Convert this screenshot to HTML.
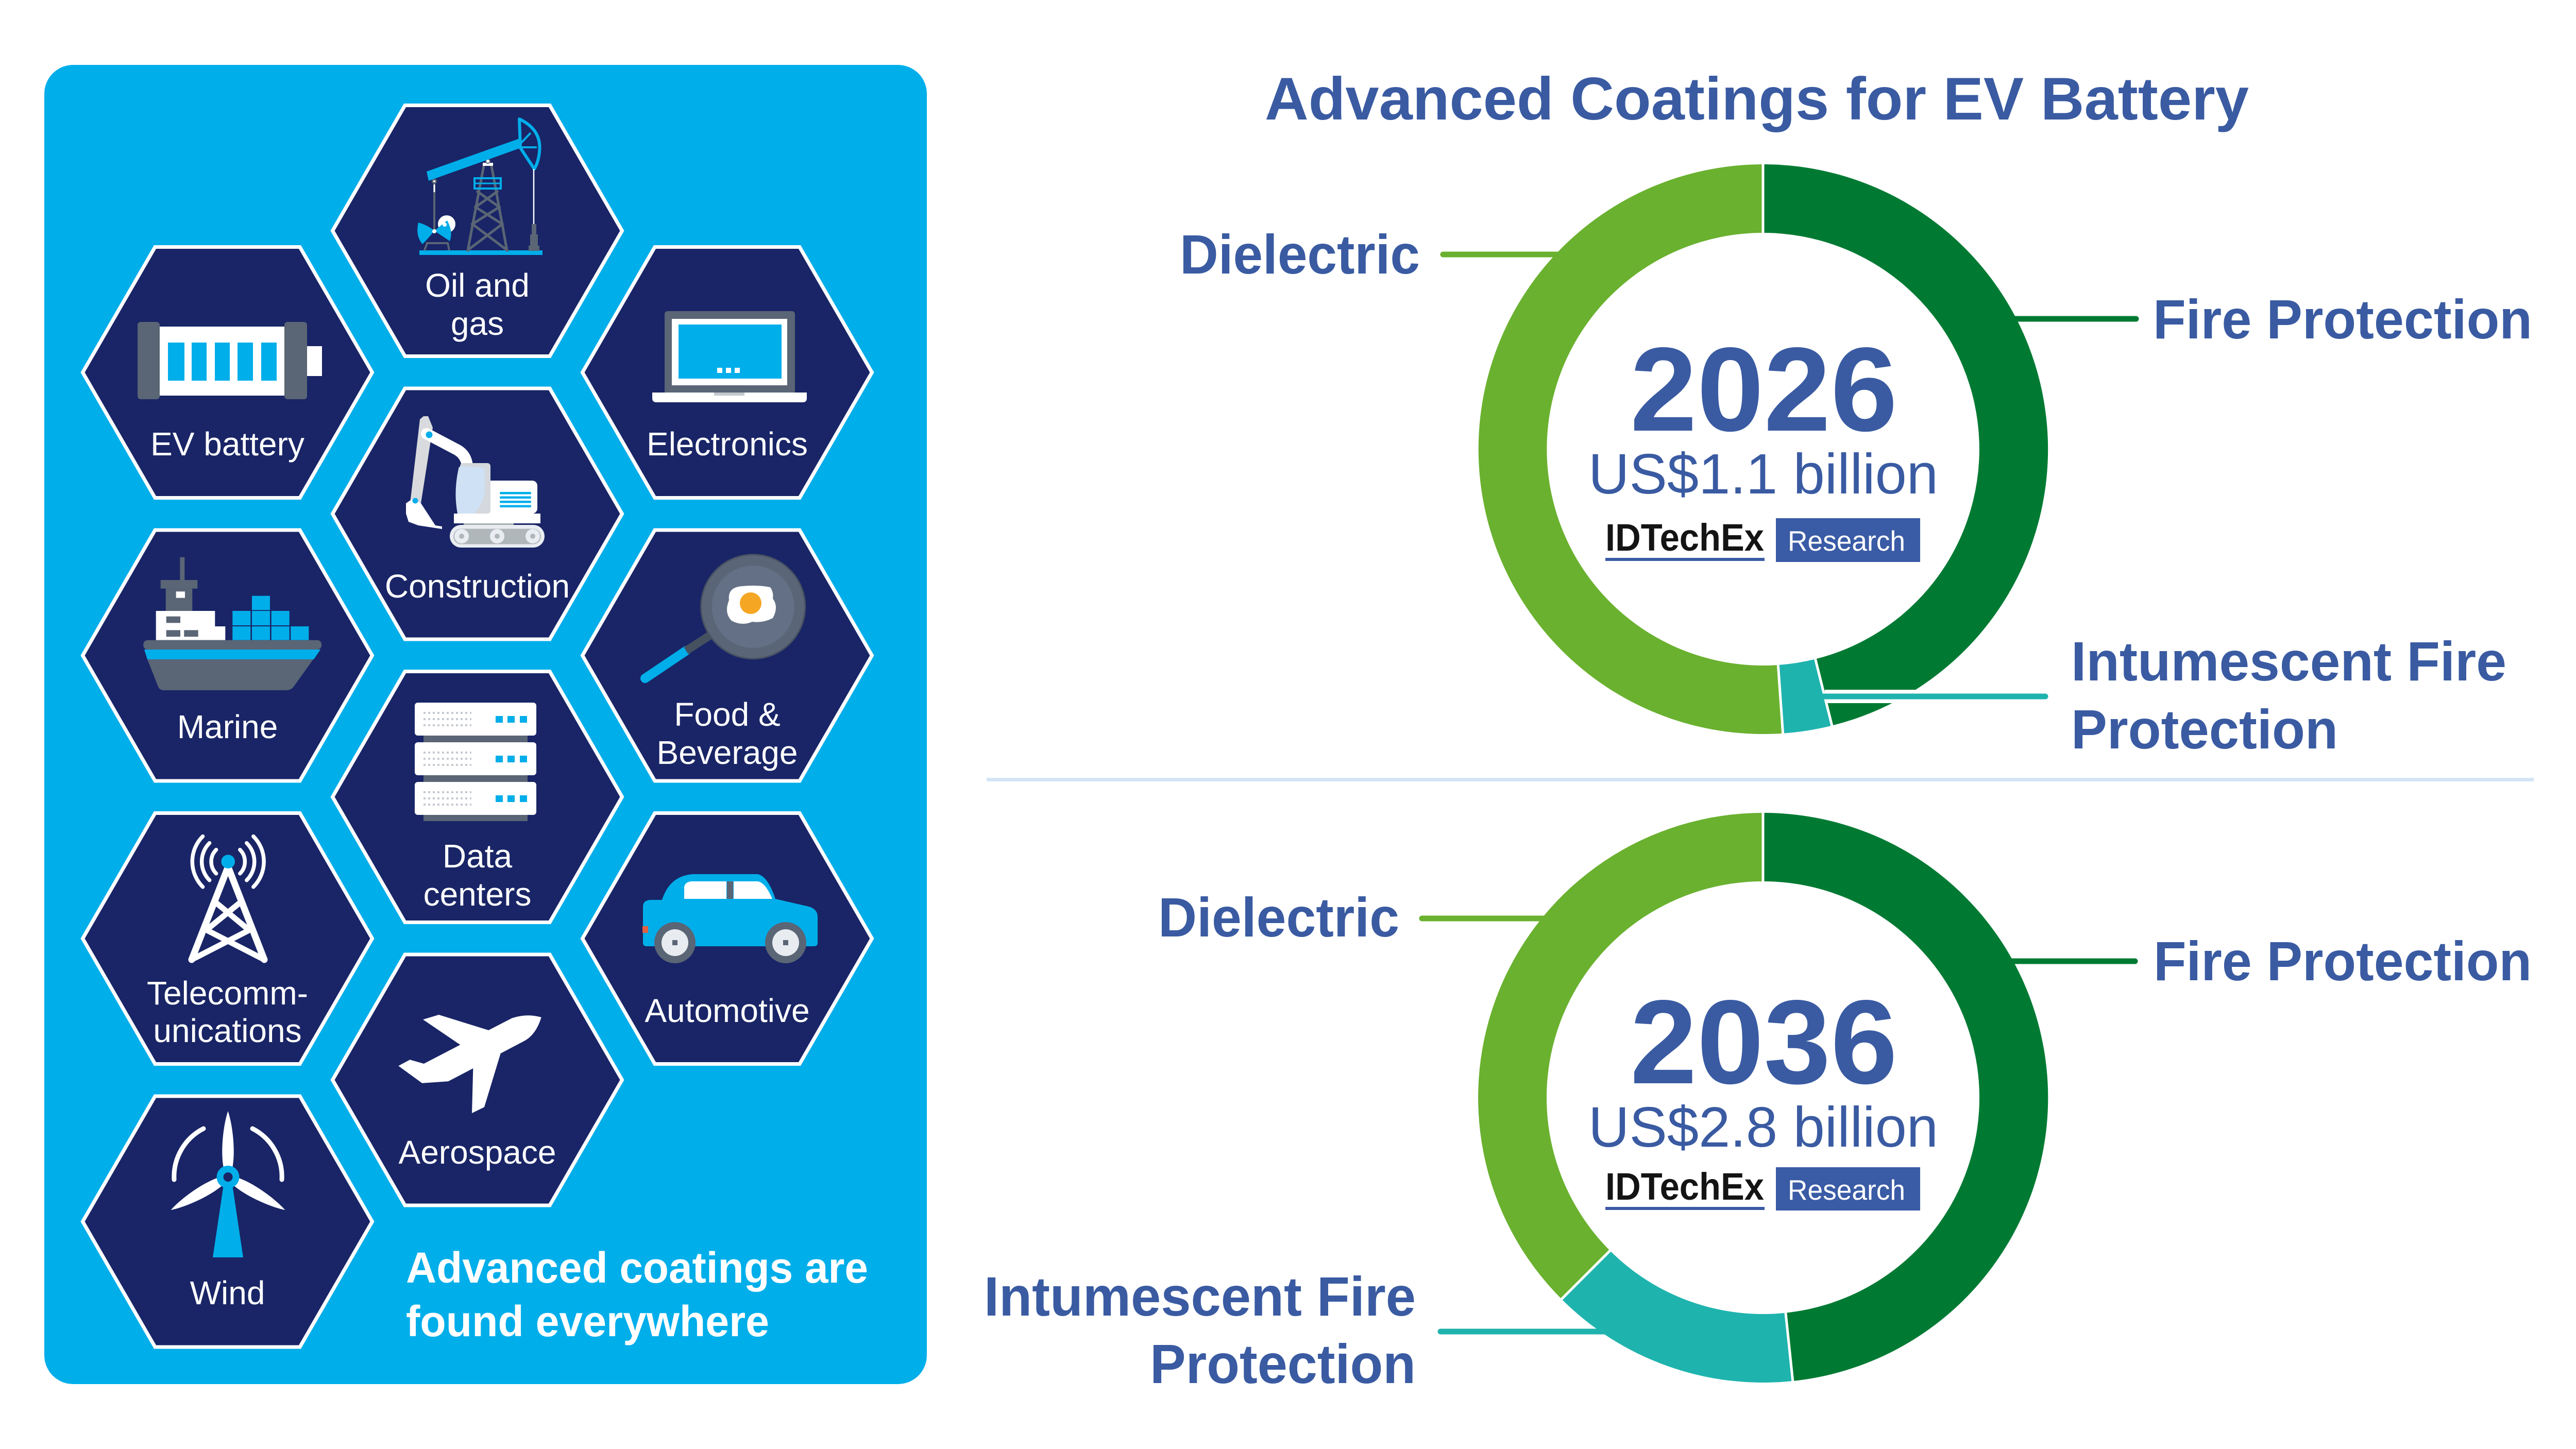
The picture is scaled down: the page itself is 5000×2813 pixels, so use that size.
<!DOCTYPE html>
<html><head><meta charset="utf-8"><style>
html,body{margin:0;padding:0;background:#fff;}
svg{display:block;}
text{font-family:"Liberation Sans",Arial,sans-serif;}
</style></head><body>
<svg xmlns="http://www.w3.org/2000/svg" width="5000" height="2813" viewBox="0 0 5000 2813">
<rect width="5000" height="2813" fill="#fff"/>
<!-- LEFT PANEL -->
<rect x="86" y="126" width="1713" height="2561" rx="56" fill="#00AEEA"/>
<g fill="#192566" stroke="#fff" stroke-width="7" stroke-linejoin="miter">
<polygon transform="translate(926.5,448)" points="-281,0 -140.5,-243.5 140.5,-243.5 281,0 140.5,243.5 -140.5,243.5"/>
<polygon transform="translate(441.5,723)" points="-281,0 -140.5,-243.5 140.5,-243.5 281,0 140.5,243.5 -140.5,243.5"/>
<polygon transform="translate(1411.5,723)" points="-281,0 -140.5,-243.5 140.5,-243.5 281,0 140.5,243.5 -140.5,243.5"/>
<polygon transform="translate(926.5,997.5)" points="-281,0 -140.5,-243.5 140.5,-243.5 281,0 140.5,243.5 -140.5,243.5"/>
<polygon transform="translate(441.5,1272.5)" points="-281,0 -140.5,-243.5 140.5,-243.5 281,0 140.5,243.5 -140.5,243.5"/>
<polygon transform="translate(1411.5,1272.5)" points="-281,0 -140.5,-243.5 140.5,-243.5 281,0 140.5,243.5 -140.5,243.5"/>
<polygon transform="translate(926.5,1547)" points="-281,0 -140.5,-243.5 140.5,-243.5 281,0 140.5,243.5 -140.5,243.5"/>
<polygon transform="translate(441.5,1822)" points="-281,0 -140.5,-243.5 140.5,-243.5 281,0 140.5,243.5 -140.5,243.5"/>
<polygon transform="translate(1411.5,1822)" points="-281,0 -140.5,-243.5 140.5,-243.5 281,0 140.5,243.5 -140.5,243.5"/>
<polygon transform="translate(926.5,2096.5)" points="-281,0 -140.5,-243.5 140.5,-243.5 281,0 140.5,243.5 -140.5,243.5"/>
<polygon transform="translate(441.5,2371.5)" points="-281,0 -140.5,-243.5 140.5,-243.5 281,0 140.5,243.5 -140.5,243.5"/>
</g>

<!-- OIL & GAS ICON -->
<g>
<rect x="814" y="486" width="239" height="9" fill="#00AEEA"/>
<g stroke="#5A6575" stroke-width="5" fill="none" stroke-linecap="square">
<line x1="908" y1="486" x2="939" y2="322"/>
<line x1="984" y1="486" x2="954" y2="322"/>
<line x1="927" y1="372" x2="969" y2="402"/>
<line x1="965" y1="372" x2="923" y2="402"/>
<line x1="923" y1="402" x2="975" y2="435"/>
<line x1="969" y1="402" x2="917" y2="435"/>
<line x1="917" y1="435" x2="982" y2="484"/>
<line x1="975" y1="435" x2="910" y2="484"/>
</g>
<rect x="921" y="346" width="51" height="20" fill="none" stroke="#00AEEA" stroke-width="4"/>
<line x1="921" y1="356" x2="972" y2="356" stroke="#00AEEA" stroke-width="3"/>
<rect x="937" y="316" width="20" height="6" fill="#fff"/>
<circle cx="947" cy="313" r="4" fill="#fff" stroke="#5A6575" stroke-width="2"/>
<polygon points="828,333 1008,269 1011,287 832,351" fill="#00AEEA"/>
<path d="M1008,231 Q1052,252 1047,295 Q1045,315 1037,328 L1010,287 Z" fill="none" stroke="#00AEEA" stroke-width="6" stroke-linejoin="round"/>
<line x1="1010" y1="279" x2="1030" y2="258" stroke="#00AEEA" stroke-width="4"/>
<line x1="1012" y1="286" x2="1042" y2="286" stroke="#00AEEA" stroke-width="4"/>
<line x1="1036" y1="328" x2="1036" y2="436" stroke="#fff" stroke-width="2.5"/>
<rect x="1032" y="435" width="9" height="22" fill="#5A6575"/>
<rect x="1029" y="455" width="15" height="23" fill="#5A6575"/>
<rect x="1026" y="477" width="21" height="10" fill="#5A6575"/>
<line x1="843" y1="352" x2="843" y2="446" stroke="#5A6575" stroke-width="4"/>
<line x1="843" y1="358" x2="843" y2="373" stroke="#fff" stroke-width="3"/>
<circle cx="843" cy="352" r="5" fill="#5A6575"/><circle cx="843" cy="352" r="2" fill="#fff"/>
<g stroke="#5A6575" stroke-width="4" fill="none"><line x1="824" y1="486" x2="829" y2="472"/><line x1="869" y1="472" x2="872" y2="486"/><line x1="827" y1="472" x2="871" y2="472"/></g>
<circle cx="867" cy="435" r="17" fill="#fff"/>
<path d="M812,432 Q830,437 843,448 Q832,462 820,474 Q806,458 812,432 Z" fill="#00AEEA"/>
<path d="M843,448 L868,428 Q880,450 873,468 Z" fill="#00AEEA"/>
<circle cx="843" cy="449" r="4" fill="#fff"/><circle cx="863" cy="436" r="4" fill="#fff"/>
</g>

<!-- EV BATTERY ICON -->
<g>
<rect x="310" y="634" width="242" height="134" fill="#fff"/>
<rect x="267" y="625" width="43" height="150" rx="6" fill="#5A6575"/>
<rect x="552" y="625" width="44" height="150" rx="6" fill="#5A6575"/>
<rect x="596" y="672" width="29" height="58" fill="#fff"/>
<g fill="#00AEEA">
<rect x="326" y="665" width="32" height="74"/><rect x="372" y="665" width="29" height="74"/><rect x="417" y="665" width="29" height="74"/><rect x="461" y="665" width="30" height="74"/><rect x="507" y="665" width="30" height="74"/>
</g>
</g>

<!-- ELECTRONICS ICON -->
<g>
<rect x="1290" y="604" width="253" height="162" rx="6" fill="#5A6575"/>
<rect x="1304" y="619" width="224" height="129" fill="#fff"/>
<rect x="1317" y="630" width="200" height="105" fill="#00AEEA"/>
<rect x="1392" y="714" width="10" height="10" fill="#fff"/><rect x="1409" y="714" width="10" height="10" fill="#fff"/><rect x="1426" y="714" width="10" height="10" fill="#fff"/>
<path d="M1266,762 L1566,762 L1566,773 Q1566,781 1558,781 L1274,781 Q1266,781 1266,773 Z" fill="#fff"/>
<rect x="1386" y="762" width="59" height="6" fill="#C3C8CE"/>
</g>

<!-- CONSTRUCTION ICON -->
<g>
<polygon points="815,814 822,808 831,808 840,830 817,977 796,977" fill="#D8DADD"/>
<path d="M828,842 L885,872 Q905,882 907,905" fill="none" stroke="#fff" stroke-width="22" stroke-linecap="round"/>
<circle cx="833" cy="844" r="6.5" fill="#00AEEA"/>
<polygon points="788,977 800,969 817,977 845,1020 858,1022 858,1027 812,1020 793,1013 788,997" fill="#fff"/>
<circle cx="806" cy="972" r="5.5" fill="#00AEEA"/>
<rect x="935" y="933" width="108" height="64" rx="10" fill="#fff"/>
<rect x="893" y="899" width="59" height="98" rx="6" fill="#D5D8DC"/>
<path d="M890,910 Q890,905 898,905 L935,907 Q941,908 941,915 L941,958 Q934,984 920,997 L888,997 Q880,955 890,910 Z" fill="#CFE1F4"/>
<g fill="#00AEEA"><rect x="970" y="955" width="61" height="4.5" rx="2"/><rect x="970" y="963.5" width="61" height="4.5" rx="2"/><rect x="970" y="972" width="61" height="4.5" rx="2"/><rect x="970" y="980.5" width="61" height="4.5" rx="2"/></g>
<rect x="881" y="997" width="168" height="19" fill="#fff"/>
<rect x="900" y="1016" width="97" height="4" fill="#A7AEB3"/>
<rect x="873" y="1019" width="184" height="44" rx="22" fill="#E9EDF2"/>
<rect x="880" y="1026.5" width="170" height="30" rx="15" fill="#B0B7BB"/>
<g fill="#E9EDF2"><circle cx="896" cy="1041" r="14"/><circle cx="965" cy="1041" r="14"/><circle cx="1034" cy="1041" r="14"/></g>
<g fill="#B0B7BB"><circle cx="896" cy="1041" r="5"/><circle cx="965" cy="1041" r="5"/><circle cx="1034" cy="1041" r="5"/></g>
</g>

<!-- MARINE ICON -->
<g>
<rect x="349.3" y="1081.7" width="9" height="45" fill="#5A6575"/>
<rect x="311.7" y="1126" width="71.6" height="16.7" fill="#5A6575"/>
<rect x="321.7" y="1142.7" width="51.6" height="43.3" fill="#5A6575"/>
<rect x="341.7" y="1148.3" width="17.3" height="12.4" fill="#fff"/>
<rect x="302.7" y="1186" width="114.6" height="56.7" fill="#fff"/>
<rect x="417" y="1216" width="20.3" height="26.7" fill="#fff"/>
<rect x="322.7" y="1196.7" width="27.3" height="12.6" fill="#5A6575"/>
<rect x="322.7" y="1223.3" width="27.3" height="12.7" fill="#5A6575"/>
<rect x="357.3" y="1223.3" width="27.4" height="12.7" fill="#5A6575"/>
<g fill="#00AEEA">
<rect x="489" y="1156.7" width="35" height="27.6"/>
<rect x="451.3" y="1186" width="35" height="28"/><rect x="489" y="1186" width="35" height="28"/><rect x="526.7" y="1186" width="35" height="28"/>
<rect x="451.3" y="1216" width="35" height="26.7"/><rect x="489" y="1216" width="35" height="26.7"/><rect x="526.7" y="1216" width="35" height="26.7"/><rect x="564.3" y="1216" width="35" height="26.7"/>
</g>
<rect x="278.3" y="1242.7" width="345.7" height="18.3" rx="8" fill="#5A6575"/>
<polygon points="280,1261 622,1261 609,1280 286,1280" fill="#00AEEA"/>
<path d="M286,1280 L608,1280 L570,1333 Q565,1340 555,1340 L318,1340 Q310,1340 307,1333 Z" fill="#5A6575"/>
</g>

<!-- FOOD ICON -->
<g>
<line x1="1252" y1="1317" x2="1331.7" y2="1263.3" stroke="#00AEEA" stroke-width="18" stroke-linecap="round"/>
<line x1="1331.7" y1="1263.3" x2="1385" y2="1229" stroke="#465160" stroke-width="16"/>
<circle cx="1461.7" cy="1177.7" r="101" fill="#5A6677" stroke="#485262" stroke-width="3"/>
<circle cx="1461.7" cy="1178" r="80" fill="#637085"/>
<path d="M1415,1165 Q1412,1140 1440,1138 Q1470,1135 1495,1140 Q1502,1150 1500,1162 Q1512,1178 1500,1200 Q1480,1210 1460,1207 Q1440,1216 1420,1205 Q1405,1190 1415,1165 Z" fill="#fff"/>
<circle cx="1457" cy="1171" r="21" fill="#F5A623"/>
</g>

<!-- DATA CENTERS ICON -->
<g>
<rect x="822" y="1380" width="202" height="214" fill="#5A6575"/>
<g fill="#fff"><rect x="805" y="1364" width="236" height="64" rx="6"/><rect x="805" y="1441" width="236" height="64" rx="6"/><rect x="805" y="1518" width="236" height="64" rx="6"/></g>
<g stroke="#C5CAD0" stroke-width="4" stroke-dasharray="4 5">
<line x1="822" y1="1384" x2="915" y2="1384"/><line x1="822" y1="1396" x2="915" y2="1396"/><line x1="822" y1="1408" x2="915" y2="1408"/>
<line x1="822" y1="1461" x2="915" y2="1461"/><line x1="822" y1="1473" x2="915" y2="1473"/><line x1="822" y1="1485" x2="915" y2="1485"/>
<line x1="822" y1="1538" x2="915" y2="1538"/><line x1="822" y1="1550" x2="915" y2="1550"/><line x1="822" y1="1562" x2="915" y2="1562"/>
</g>
<g fill="#00AEEA">
<rect x="962" y="1390" width="14" height="13"/><rect x="985" y="1390" width="14" height="13"/><rect x="1009" y="1390" width="14" height="13"/>
<rect x="962" y="1467" width="14" height="13"/><rect x="985" y="1467" width="14" height="13"/><rect x="1009" y="1467" width="14" height="13"/>
<rect x="962" y="1544" width="14" height="13"/><rect x="985" y="1544" width="14" height="13"/><rect x="1009" y="1544" width="14" height="13"/>
</g>
</g>

<!-- TELECOM ICON -->
<g fill="none" stroke="#fff" stroke-linecap="round" stroke-linejoin="round">
<polyline points="372,1863 442.7,1683 513,1863" stroke-width="13"/>
<g stroke-width="11">
<line x1="420" y1="1753" x2="476.7" y2="1800"/><line x1="465" y1="1753" x2="407.3" y2="1800"/>
<line x1="400" y1="1805" x2="513" y2="1863"/><line x1="485" y1="1805" x2="372" y2="1863"/>
</g>
<g stroke-width="7.5">
<path d="M419.6,1649.6 A32.7 32.7 0 0 0 419.6,1695.8"/>
<path d="M406.6,1636.6 A51 51 0 0 0 406.6,1708.8"/>
<path d="M393.6,1623.6 A69.4 69.4 0 0 0 393.6,1721.8"/>
<path d="M465.8,1649.6 A32.7 32.7 0 0 1 465.8,1695.8"/>
<path d="M478.8,1636.6 A51 51 0 0 1 478.8,1708.8"/>
<path d="M491.8,1623.6 A69.4 69.4 0 0 1 491.8,1721.8"/>
</g>
</g>
<circle cx="442.7" cy="1672.7" r="13.3" fill="#00AEEA"/>

<!-- AUTOMOTIVE ICON -->
<g>
<path d="M1248,1760 Q1248,1748 1262,1747 L1285,1747 Q1300,1700 1345,1697 L1470,1697 Q1490,1700 1505,1745 L1570,1760 Q1587,1765 1587,1780 L1587,1830 Q1587,1837 1580,1837 L1255,1837 Q1248,1837 1248,1830 Z" fill="#00AEEA"/>
<path d="M1328,1745 L1328,1722 Q1330,1711 1345,1711 L1410,1711 L1410,1745 Z" fill="#fff"/>
<path d="M1424,1711 L1470,1711 Q1485,1712 1499,1745 L1424,1745 Z" fill="#fff"/>
<rect x="1411" y="1711" width="12" height="34" fill="#5A6575"/>
<rect x="1247" y="1798" width="11" height="13" fill="#E0603F"/>
<circle cx="1310" cy="1830" r="40" fill="#5A6575"/><circle cx="1310" cy="1830" r="26" fill="#E8ECF0"/><rect x="1305" y="1825" width="10" height="10" fill="#5A6575"/>
<circle cx="1525" cy="1830" r="40" fill="#5A6575"/><circle cx="1525" cy="1830" r="26" fill="#E8ECF0"/><rect x="1520" y="1825" width="10" height="10" fill="#5A6575"/>
</g>

<!-- AEROSPACE ICON -->
<path d="M773.3,2069.3 L795.7,2057.3 L822.7,2065 L893.3,2028.3 L821,1979.3 L851.7,1970 L948.3,2000 L993.3,1976.7 Q1023.3,1966.7 1050.7,1975 Q1040,2010 1016,2021.7 L971.7,2045 L940,2149.3 L916,2161 L918.3,2074 L870,2099.3 L819.3,2102.7 Z" fill="#fff"/>

<!-- WIND ICON -->
<g>
<g fill="none" stroke="#fff" stroke-width="9" stroke-linecap="round">
<path d="M395,2191 A105 105 0 0 0 338,2290"/>
<path d="M490,2191 A105 105 0 0 1 547,2290"/>
</g>
<polygon points="434,2300 451,2300 472,2441 413,2441" fill="#00AEEA"/>
<g fill="#fff">
<path d="M442.5,2157 C452,2185 458,2240 450,2272 L435,2272 C427,2240 433,2185 442.5,2157 Z"/>
<path transform="rotate(120 442.5 2285)" d="M442.5,2157 C452,2185 458,2240 450,2272 L435,2272 C427,2240 433,2185 442.5,2157 Z"/>
<path transform="rotate(240 442.5 2285)" d="M442.5,2157 C452,2185 458,2240 450,2272 L435,2272 C427,2240 433,2185 442.5,2157 Z"/>
</g>
<circle cx="442.5" cy="2285" r="22" fill="#00AEEA"/>
<circle cx="442.5" cy="2285" r="9" fill="#192566"/>
</g>

<!-- HEX LABELS -->
<g fill="#fff" font-size="64" text-anchor="middle">
<text x="926.5" y="576">Oil and</text>
<text x="926.5" y="650">gas</text>
<text x="441.5" y="884">EV battery</text>
<text x="1411.5" y="884">Electronics</text>
<text x="926.5" y="1160">Construction</text>
<text x="441.5" y="1433">Marine</text>
<text x="1411.5" y="1409">Food &amp;</text>
<text x="1411.5" y="1483">Beverage</text>
<text x="926.5" y="1684">Data</text>
<text x="926.5" y="1758">centers</text>
<text x="441.5" y="1950">Telecomm-</text>
<text x="441.5" y="2023">unications</text>
<text x="1411.5" y="1984">Automotive</text>
<text x="926.5" y="2259">Aerospace</text>
<text x="441.5" y="2532">Wind</text>
</g>
<g fill="#fff" font-size="84" font-weight="bold">
<text x="788" y="2490" textLength="897" lengthAdjust="spacingAndGlyphs">Advanced coatings are</text>
<text x="788" y="2594" textLength="705" lengthAdjust="spacingAndGlyphs">found everywhere</text>
</g>

<!-- RIGHT SIDE -->
<text x="2455" y="232" font-size="117" font-weight="bold" fill="#3A5BA2" textLength="1910" lengthAdjust="spacingAndGlyphs">Advanced Coatings for EV Battery</text>

<rect x="1915" y="1510" width="3003" height="7" fill="#D3E5F5"/>

<!-- DONUT 1 leaders (under ring) -->
<g stroke-width="11" stroke-linecap="round">
<line x1="2801" y1="494" x2="3035" y2="494" stroke="#6AB12F"/>
<line x1="3900" y1="619" x2="4146" y2="619" stroke="#007A33"/>
</g>
<!-- DONUT 1 -->
<path d="M3422,319 A553 553 0 0 1 3555.8,1408.6 L3523.6,1279.5 A420 420 0 0 0 3422,452 Z" fill="#007A33"/>
<path d="M3555.8,1408.6 A553 553 0 0 1 3460.6,1423.7 L3451.3,1291 A420 420 0 0 0 3523.6,1279.5 Z" fill="#1FB3AE"/>
<path d="M3460.6,1423.7 A553 553 0 1 1 3422,319 L3422,452 A420 420 0 1 0 3451.3,1291 Z" fill="#6AB12F"/>
<g stroke="#fff" stroke-width="5">
<line x1="3422" y1="315" x2="3422" y2="456"/>
<line x1="3522.6" y1="1275.6" x2="3556.8" y2="1412.5"/>
<line x1="3451" y1="1287" x2="3460.9" y2="1427.7"/>
</g>
<line x1="3542" y1="1352" x2="3905" y2="1352" stroke="#fff" stroke-width="26"/>
<line x1="3542" y1="1352" x2="3970" y2="1352" stroke="#1FB3AE" stroke-width="11" stroke-linecap="round"/>
<rect x="3530" y="1346.5" width="14" height="11" fill="#1FB3AE"/>

<text x="3164" y="836" font-size="232" font-weight="bold" fill="#3A5BA2" textLength="519" lengthAdjust="spacingAndGlyphs">2026</text>
<text x="3083" y="958" font-size="110" fill="#3A5BA2" textLength="679" lengthAdjust="spacingAndGlyphs">US$1.1 billion</text>
<text x="3116" y="1069" font-size="74" font-weight="bold" fill="#141414" textLength="308" lengthAdjust="spacingAndGlyphs">IDTechEx</text>
<rect x="3116" y="1083" width="309" height="6" fill="#3A5BA5"/>
<rect x="3447" y="1006" width="280" height="85" fill="#3A5BA5"/>
<text x="3470" y="1069" font-size="55" fill="#fff" textLength="228" lengthAdjust="spacingAndGlyphs">Research</text>

<g font-size="108" font-weight="bold" fill="#3A5BA2">
<text x="2290" y="531" textLength="466" lengthAdjust="spacingAndGlyphs">Dielectric</text>
<text x="4179" y="657" textLength="736" lengthAdjust="spacingAndGlyphs">Fire Protection</text>
<text x="4020" y="1321" textLength="845" lengthAdjust="spacingAndGlyphs">Intumescent Fire</text>
<text x="4020" y="1453" textLength="518" lengthAdjust="spacingAndGlyphs">Protection</text>
</g>

<!-- DONUT 2 leaders -->
<g stroke-width="11" stroke-linecap="round">
<line x1="2760" y1="1783" x2="3005" y2="1783" stroke="#6AB12F"/>
<line x1="3900" y1="1866" x2="4144" y2="1866" stroke="#007A33"/>
<line x1="2796" y1="2585" x2="3130" y2="2585" stroke="#1FB3AE"/>
</g>
<!-- DONUT 2 -->
<path d="M3422,1578 A553 553 0 0 1 3479.8,2681 L3465.9,2548.7 A420 420 0 0 0 3422,1711 Z" fill="#007A33"/>
<path d="M3479.8,2681 A553 553 0 0 1 3031,2522 L3125,2428 A420 420 0 0 0 3465.9,2548.7 Z" fill="#1FB3AE"/>
<path d="M3031,2522 A553 553 0 0 1 3422,1578 L3422,1711 A420 420 0 0 0 3125,2428 Z" fill="#6AB12F"/>
<g stroke="#fff" stroke-width="5">
<line x1="3422" y1="1574" x2="3422" y2="1715"/>
<line x1="3465.5" y1="2544.7" x2="3480.2" y2="2685"/>
<line x1="3127.8" y1="2425.2" x2="3028.2" y2="2524.8"/>
</g>

<text x="3164" y="2103" font-size="232" font-weight="bold" fill="#3A5BA2" textLength="519" lengthAdjust="spacingAndGlyphs">2036</text>
<text x="3083" y="2226" font-size="110" fill="#3A5BA2" textLength="679" lengthAdjust="spacingAndGlyphs">US$2.8 billion</text>
<text x="3116" y="2329" font-size="74" font-weight="bold" fill="#141414" textLength="308" lengthAdjust="spacingAndGlyphs">IDTechEx</text>
<rect x="3116" y="2343" width="309" height="6" fill="#3A5BA5"/>
<rect x="3447" y="2266" width="280" height="84" fill="#3A5BA5"/>
<text x="3470" y="2329" font-size="55" fill="#fff" textLength="228" lengthAdjust="spacingAndGlyphs">Research</text>

<g font-size="108" font-weight="bold" fill="#3A5BA2">
<text x="2248" y="1818" textLength="468" lengthAdjust="spacingAndGlyphs">Dielectric</text>
<text x="4180" y="1903" textLength="734" lengthAdjust="spacingAndGlyphs">Fire Protection</text>
<text x="1910" y="2554" textLength="838" lengthAdjust="spacingAndGlyphs">Intumescent Fire</text>
<text x="2232" y="2685" textLength="516" lengthAdjust="spacingAndGlyphs">Protection</text>
</g>
</svg>
</body></html>
